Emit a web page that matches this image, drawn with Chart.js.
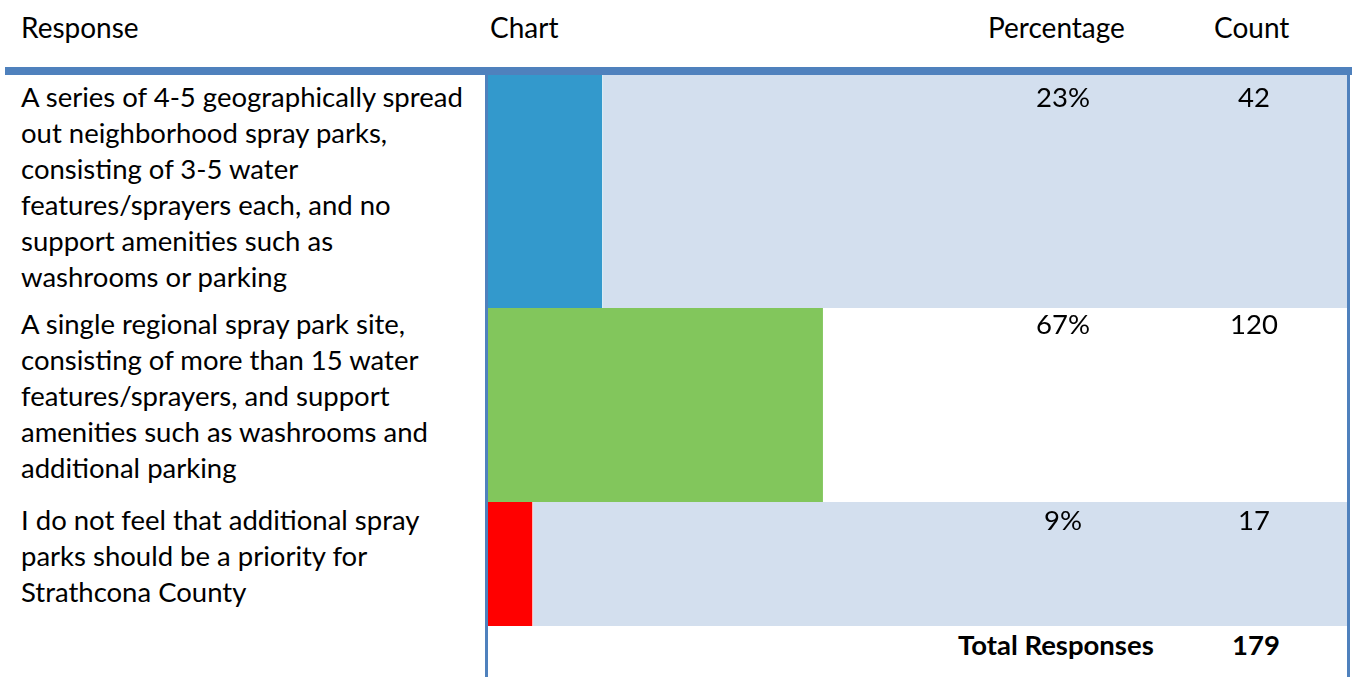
<!DOCTYPE html>
<html>
<head>
<meta charset="utf-8">
<script src="https://cdn.jsdelivr.net/npm/chart.js@4/dist/chart.umd.min.js"></script>
<style>
  html, body { margin:0; padding:0; background:#fff; }
  body { width:1352px; height:677px; position:relative; overflow:hidden;
         font-family: Lato, 'Open Sans', sans-serif; font-size:27.5px; color:#000; }
  .abs { position:absolute; white-space:nowrap; line-height:32px; }
  .hdr { top:11px; font-size:28px; }
  .rule-h { position:absolute; left:5px; top:67px; width:1347px; height:8px; background:#4f81bd; }
  .rule-v { position:absolute; top:75px; width:3px; height:602px; background:#4f81bd; }
  .row { position:absolute; left:0; width:1352px; }
  .band { position:absolute; left:488px; width:859px; top:0; bottom:0; }
  .resp { position:absolute; left:21px; white-space:pre; line-height:36px; }
  .pct, .cnt { position:absolute; line-height:36px; text-align:center; width:120px; }
  .pct { left:1003px; }
  .cnt { left:1194px; }
  canvas { position:absolute; left:488px; top:0; }
  .bold { font-weight:bold; }
</style>
</head>
<body>
<div class="abs hdr" style="left:21px">Response</div>
<div class="abs hdr" style="left:490px">Chart</div>
<div class="abs hdr" style="left:988px">Percentage</div>
<div class="abs hdr" style="left:1214px">Count</div>
<div class="rule-h"></div>
<div id="rows"></div>
<div class="rule-v" style="left:485px"></div>
<div class="rule-v" style="left:1347px"></div>
<div class="abs bold" style="left:958px; top:629px">Total Responses</div>
<div class="abs bold" style="left:1232px; top:629px">179</div>

<script>
// survey responses (line breaks as in the table)
const responses = [
  'A series of 4-5 geographically spread\nout neighborhood spray parks,\nconsisting of 3-5 water\nfeatures/sprayers each, and no\nsupport amenities such as\nwashrooms or parking',
  'A single regional spray park site,\nconsisting of more than 15 water\nfeatures/sprayers, and support\namenities such as washrooms and\nadditional parking',
  'I do not feel that additional spray\nparks should be a priority for\nStrathcona County'
];
const percentages = [23, 67, 9];
const counts      = [42, 120, 17];
const totalResponses = 179;

const barColors  = ['#3399cc', '#82c65c', '#ff0000'];
const rowHeights = [233, 194, 124];
const rowShaded  = [true, false, true];
const textOffset = [4, -2, 0];
const axisMax = 172;

const rowsEl = document.getElementById('rows');
let rowTop = 75;
responses.forEach((txt, i) => {
  const row = document.createElement('div');
  row.className = 'row';
  row.style.top = rowTop + 'px';
  row.style.height = rowHeights[i] + 'px';
  const t = `top:${textOffset[i]}px`;
  row.innerHTML = `
    ${rowShaded[i] ? '<div class="band" style="background:#d3dfee"></div>' : ''}
    <canvas width="859" height="${rowHeights[i]}"></canvas>
    <div class="resp" style="${t}">${txt}</div>
    <div class="pct" style="${t}">${percentages[i]}%</div>
    <div class="cnt" style="${t}">${counts[i]}</div>`;
  rowsEl.appendChild(row);
  rowTop += rowHeights[i];

  new Chart(row.querySelector('canvas'), {
    type: 'bar',
    data: { labels: [txt], datasets: [{
      data: [percentages[i]],
      backgroundColor: barColors[i],
      borderColor: '#ffffff',
      borderWidth: { top:0, right: rowShaded[i] ? 1 : 0, bottom:0, left:0 },
      borderSkipped: false,
      barPercentage: 1, categoryPercentage: 1
    }]},
    options: {
      indexAxis: 'y', responsive: false, animation: false,
      layout: { padding: 0 },
      plugins: { legend: { display:false }, tooltip: { enabled:false } },
      scales: {
        x: { display:false, min:0, max:axisMax },
        y: { display:false }
      }
    }
  });
});
</script>
</body>
</html>
